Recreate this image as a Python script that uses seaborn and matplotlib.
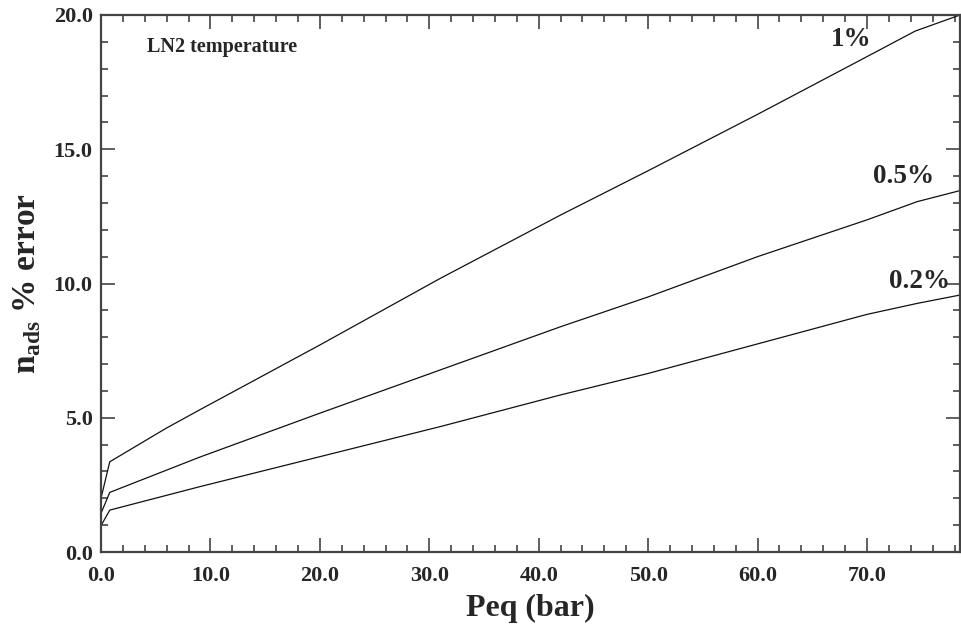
#!/usr/bin/env python
# coding: utf-8
#
import seaborn as sb
from matplotlib import pyplot as plt
from matplotlib.ticker import MultipleLocator, FormatStrFormatter
import pandas as pd
import numpy as np

# pressure (bar) and % error of n_ads for each accuracy level
peq_1 = [0.0, 0.8, 6.0, 9.0, 20.0, 31.0, 42.0, 50.0, 60.0, 70.0, 74.4, 78.5]
err_1 = [2.0, 3.36, 4.62, 5.29, 7.71, 10.19, 12.55, 14.2, 16.3, 18.45, 19.4, 20.0]
peq_05 = [0.0, 0.8, 9.0, 20.0, 31.0, 42.0, 50.0, 60.0, 70.0, 74.6, 78.5]
err_05 = [1.44, 2.22, 3.53, 5.17, 6.78, 8.39, 9.5, 11.0, 12.37, 13.05, 13.46]
peq_02 = [0.0, 0.8, 9.0, 20.0, 31.0, 42.0, 50.0, 60.0, 70.0, 74.6, 78.5]
err_02 = [0.98, 1.56, 2.43, 3.55, 4.67, 5.85, 6.65, 7.75, 8.85, 9.26, 9.57]
levels = ['1%', '0.5%', '0.2%']

dfs = []
for lab, p, e in zip(levels, [peq_1, peq_05, peq_02], [err_1, err_05, err_02]):
    dfs.append(pd.DataFrame({'Peq': p, 'err': e, 'level': lab}))
df = pd.concat(dfs, ignore_index=True)

sb.set_style('ticks')
plt.rcParams['font.family'] = ['Liberation Serif', 'DejaVu Serif']
plt.rcParams['font.weight'] = 'bold'
plt.rcParams['mathtext.fontset'] = 'custom'
plt.rcParams['mathtext.bf'] = 'Liberation Serif:bold'
plt.rcParams['mathtext.rm'] = 'Liberation Serif:bold'
#
fig = plt.figure(figsize=(9.61, 6.28), dpi=100)
ax = fig.add_axes([101/961, 1-552/628, 859/961, 537/628])
sb.lineplot(data=df, x='Peq', y='err', hue='level', units='level', estimator=None,
            palette=['#111111']*3, legend=False, lw=0.9, ax=ax, sort=False)
#
ax.set_xlim(0, 78.5)
ax.set_ylim(0, 20)
ax.xaxis.set_major_locator(MultipleLocator(10))
ax.xaxis.set_minor_locator(MultipleLocator(2))
ax.yaxis.set_major_locator(MultipleLocator(5))
ax.yaxis.set_minor_locator(MultipleLocator(1))
ax.xaxis.set_major_formatter(FormatStrFormatter('%.1f'))
ax.yaxis.set_major_formatter(FormatStrFormatter('%.1f'))
ax.tick_params(which='both', direction='in', top=True, right=True,
               color='#444444', labelsize=16, width=1.2)
ax.tick_params(which='major', length=10)
ax.tick_params(axis='x', which='major', pad=10)
ax.tick_params(axis='y', which='major', pad=6)
ax.tick_params(which='minor', length=5)
for t in ax.get_xticklabels() + ax.get_yticklabels():
    t.set_fontweight('bold')
for s in ax.spines.values():
    s.set_linewidth(1.6)
    s.set_color('#444444')
#
ax.set_xlabel('Peq (bar)', fontsize=23, fontweight='bold', labelpad=6)
ax.set_ylabel(r'n$_{\mathbf{ads}}$ % error', fontsize=24, fontweight='bold', labelpad=8)
#
ax.text(4.2, 18.8, 'LN2 temperature', fontsize=14.5, fontweight='bold', va='center')
label_pos = {'1%': (68.6, 19.07), '0.5%': (73.3, 13.98), '0.2%': (74.8, 10.07)}
for lab in levels:
    x, y = label_pos[lab]
    ax.text(x, y, lab, fontsize=19.5, fontweight='bold', ha='center', va='center')
#
fig.savefig('out.png', dpi=100)
